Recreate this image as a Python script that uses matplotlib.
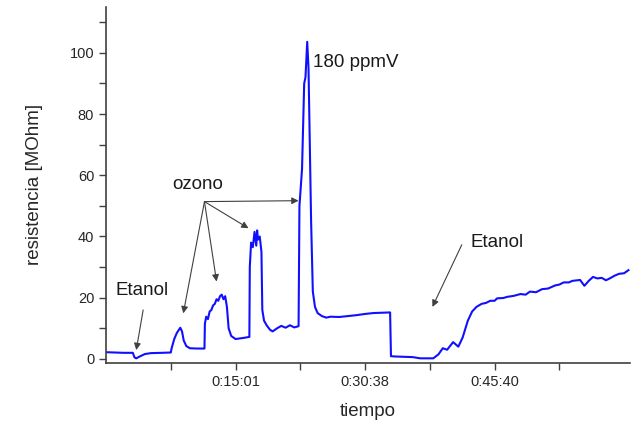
import matplotlib
matplotlib.use("Agg")
import matplotlib.pyplot as plt
from matplotlib.ticker import FixedLocator

plt.rcParams['font.family'] = ['Liberation Sans', 'DejaVu Sans']

# tiempo (minutos aprox.) y resistencia [MOhm]
tiempo = [0, 1, 2, 3.1, 3.3, 3.5, 3.9, 4.5, 5.2, 6.5, 7.5,
          7.6, 7.9, 8.2, 8.6, 8.8, 9.0, 9.3, 9.7, 10.5, 11.4,
          11.45, 11.6, 11.8, 12.0, 12.2, 12.4, 12.6, 12.8, 13.0, 13.2, 13.4, 13.6, 13.8, 14.0,
          14.2, 14.5, 15, 16, 16.6,
          16.65, 16.8, 17.0, 17.2, 17.4, 17.5, 17.6, 17.8, 18.0, 18.1, 18.3, 18.6, 19.0,
          19.3, 19.8, 20.3, 20.8, 21.3, 21.8, 22.3,
          22.4, 22.7, 22.95, 23.1, 23.3, 23.45, 23.6, 23.75, 23.95, 24.2, 24.5, 25, 25.5,
          26, 27, 28, 29, 30, 31, 32, 32.9,
          33.0, 33.5, 34.5, 35.5, 36.4, 37.9, 38.5, 39.0, 39.5, 40.2, 40.8, 41.3, 41.9,
          42.4, 42.9, 43.5, 44.0, 44.5, 45.0, 45.3, 46.0, 46.5, 47.2, 48, 48.6, 49.1, 49.8,
          50.5, 51.2, 52, 52.5, 53, 53.6, 54, 54.9, 55.4, 55.9, 56.4, 56.9, 57.4, 57.9,
          58.4, 58.9, 59.4, 60.0, 60.5]
resistencia = [2.2, 2.1, 2.0, 2.0, 0.5, 0.2, 0.8, 1.6, 1.9, 2.0, 2.1,
               3.5, 6.5, 8.5, 10.2, 9.0, 6.0, 4.2, 3.5, 3.4, 3.4,
               11.5, 13.8, 13.0, 15.5, 16.0, 17.5, 18.0, 19.5, 19.0, 20.5, 21.0, 19.5, 20.5, 17.0,
               10.0, 7.5, 6.5, 6.9, 7.2,
               30, 38, 36.5, 41.5, 37, 42, 39, 40, 35, 16, 12.5, 11.0, 9.5,
               9.0, 10.0, 10.8, 10.2, 11.0, 10.3, 10.7,
               50, 62, 90, 92, 103.6, 95, 70, 45, 22, 17, 15, 14, 13.5,
               13.8, 13.7, 14.0, 14.3, 14.7, 15.0, 15.1, 15.2,
               0.9, 0.8, 0.7, 0.6, 0.2, 0.2, 1.5, 3.5, 3.0, 5.5, 4.0, 7.0, 12.5,
               15.5, 17.0, 18.0, 18.3, 19.0, 19.0, 19.8, 19.9, 20.3, 20.6, 21.2, 21.0, 22, 21.8,
               22.8, 23.0, 24.0, 24.3, 25.0, 25.0, 25.5, 25.8, 23.9, 25.5, 26.8, 26.3, 26.5, 25.7,
               26.4, 27.2, 27.8, 28.0, 29.0]

xticks_pos = [15, 30, 45]
xticks_lab = ["0:15:01", "0:30:38", "0:45:40"]

fig = plt.figure(figsize=(6.33, 4.22), dpi=100)
ax = fig.add_axes([0.1675, 0.14, 0.828, 0.8436])
ax.plot(tiempo, resistencia, color='#1010ff', lw=1.5)

ax.set_xlim(0, 60.7)
ax.set_ylim(-1.3, 115)
ax.set_xticks(xticks_pos)
ax.set_xticklabels(xticks_lab)
ax.xaxis.set_minor_locator(FixedLocator([7.5, 22.5, 37.5, 52.5]))
ax.set_yticks([0, 20, 40, 60, 80, 100])
ax.yaxis.set_minor_locator(FixedLocator([10, 30, 50, 70, 90, 110]))
ax.tick_params(which='both', direction='out', length=5, width=1, color='0.25',
               labelsize=10.5, labelcolor='0.15')
for s in ['top', 'right']:
    ax.spines[s].set_visible(False)
for s in ['left', 'bottom']:
    ax.spines[s].set_color('0.25')
    ax.spines[s].set_linewidth(1.2)

ax.set_xlabel("tiempo", fontsize=13.5, color='0.15', labelpad=10)
ax.set_ylabel("resistencia [MOhm]", fontsize=13.5, color='0.15', labelpad=19)

ap = dict(arrowstyle='-|>', color='0.25', lw=0.8, mutation_scale=10, shrinkA=0, shrinkB=0)
ax.text(10.65, 56.9, "ozono", fontsize=13.5, ha='center', va='center', color='0.1')
for hx, hy in [(8.95, 14.9), (12.8, 25.3), (16.5, 42.7), (22.3, 51.7)]:
    ax.annotate("", xy=(hx, hy), xytext=(11.4, 51.4), arrowprops=ap)

ax.text(4.2, 22.5, "Etanol", fontsize=13.5, ha='center', va='center', color='0.1')
ax.annotate("", xy=(3.5, 2.9), xytext=(4.3, 16), arrowprops=ap)

ax.text(45.3, 37.9, "Etanol", fontsize=13.5, ha='center', va='center', color='0.1')
ax.annotate("", xy=(37.8, 17), xytext=(41.2, 37.3), arrowprops=ap)

ax.text(24.0, 97, "180 ppmV", fontsize=13.5, ha='left', va='center', color='0.1')

fig.savefig("out.png", dpi=100)
